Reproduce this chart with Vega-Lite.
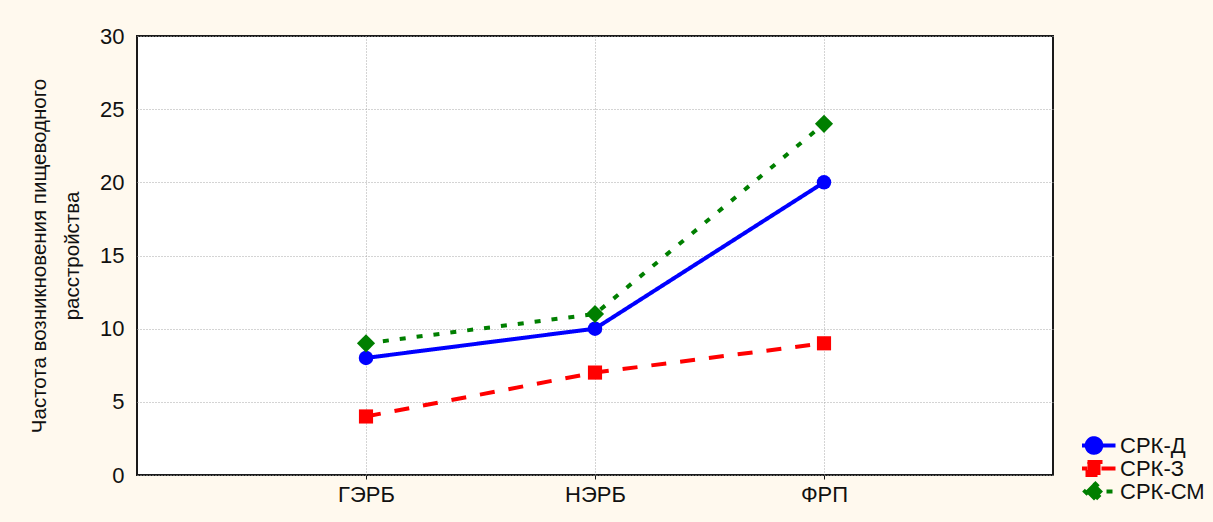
{
  "$schema": "https://vega.github.io/schema/vega-lite/v6.json",
  "width": 916,
  "height": 439,
  "autosize": {"type": "none"},
  "padding": {"left": 137, "top": 36, "right": 160, "bottom": 47},
  "background": "#FFF9EE",
  "config": {
    "view": {"fill": "#FFFFFF", "stroke": "#1a1a1a", "strokeWidth": 2},
    "font": "Liberation Sans",
    "axis": {
      "gridColor": "#a8a8a8",
      "gridDash": [1, 2],
      "gridWidth": 1,
      "domain": false,
      "labelColor": "#111111",
      "titleColor": "#111111",
      "labelFont": "Liberation Sans",
      "titleFont": "Liberation Sans",
      "titleFontWeight": "normal"
    }
  },
  "data": {
    "values": [
      {"group": "ГЭРБ", "series": "СРК-Д", "value": 8},
      {"group": "НЭРБ", "series": "СРК-Д", "value": 10},
      {"group": "ФРП", "series": "СРК-Д", "value": 20},
      {"group": "ГЭРБ", "series": "СРК-З", "value": 4},
      {"group": "НЭРБ", "series": "СРК-З", "value": 7},
      {"group": "ФРП", "series": "СРК-З", "value": 9},
      {"group": "ГЭРБ", "series": "СРК-СМ", "value": 9},
      {"group": "НЭРБ", "series": "СРК-СМ", "value": 11},
      {"group": "ФРП", "series": "СРК-СМ", "value": 24}
    ]
  },
  "encoding": {
    "x": {
      "field": "group",
      "type": "ordinal",
      "sort": ["ГЭРБ", "НЭРБ", "ФРП"],
      "scale": {"type": "point", "padding": 1},
      "axis": {
        "title": null,
        "labelAngle": 0,
        "labelFontSize": 22,
        "tickSize": 4,
        "tickColor": "#111111",
        "labelPadding": 5,
        "grid": true
      }
    },
    "y": {
      "field": "value",
      "type": "quantitative",
      "scale": {"domain": [0, 30], "nice": false},
      "axis": {
        "values": [0, 5, 10, 15, 20, 25, 30],
        "ticks": false,
        "labelPadding": 13,
        "labelFontSize": 22,
        "title": ["Частота возникновения пищеводного", "расстройства"],
        "titleFontSize": 20.5,
        "titleLineHeight": 33,
        "titleX": -88
      }
    },
    "color": {
      "field": "series",
      "type": "nominal",
      "scale": {"domain": ["СРК-Д", "СРК-З", "СРК-СМ"], "range": ["#0000FF", "#FF0000", "#007F00"]},
      "legend": {
        "title": null,
        "orient": "none",
        "legendX": 945,
        "legendY": 398,
        "rowPadding": 0,
        "clipHeight": 23,
        "symbolSize": 400,
        "labelFontSize": 22,
        "labelColor": "#111111",
        "labelFont": "Liberation Sans",
        "labelOffset": 14,
        "encode": {
          "symbols": {
            "update": {
              "shape": {"signal": "datum.value == 'СРК-Д' ? 'M-2.15,0L2.15,0M0.73,0A0.73,0.73,0,1,1,-0.73,0A0.73,0.73,0,1,1,0.73,0Z' : datum.value == 'СРК-З' ? 'M-2.15,0L2.15,0M-0.65,-0.65L0.65,-0.65L0.65,0.65L-0.65,0.65Z' : 'M-2.15,0L2.15,0M0,-0.9L0.9,0L0,0.9L-0.9,0Z'"},
              "size": {"value": 400},
              "strokeWidth": {"value": 4},
              "strokeDash": {"signal": "datum.value == 'СРК-З' ? [10,6] : datum.value == 'СРК-СМ' ? [5,7] : [1,0]"},
              "fill": {"signal": "datum.value == 'СРК-Д' ? '#0000FF' : datum.value == 'СРК-З' ? '#FF0000' : '#007F00'"},
              "stroke": {"signal": "datum.value == 'СРК-Д' ? '#0000FF' : datum.value == 'СРК-З' ? '#FF0000' : '#007F00'"},
              "opacity": {"value": 1},
              "fillOpacity": {"value": 1},
              "strokeOpacity": {"value": 1}
            }
          }
        }
      }
    }
  },
  "layer": [
    {
      "mark": {"type": "line", "strokeWidth": 4},
      "encoding": {
        "strokeDash": {
          "field": "series",
          "type": "nominal",
          "scale": {"domain": ["СРК-Д", "СРК-З", "СРК-СМ"], "range": [[1, 0], [15, 14], [6, 11]]},
          "legend": null
        }
      }
    },
    {
      "transform": [{"filter": {"field": "series", "equal": "СРК-Д"}}],
      "mark": {"type": "point", "filled": true, "opacity": 1, "shape": "circle", "size": 210}
    },
    {
      "transform": [{"filter": {"field": "series", "equal": "СРК-З"}}],
      "mark": {"type": "point", "filled": true, "opacity": 1, "shape": "square", "size": 200}
    },
    {
      "transform": [{"filter": {"field": "series", "equal": "СРК-СМ"}}],
      "mark": {"type": "point", "filled": true, "opacity": 1, "shape": "diamond", "size": 330}
    }
  ]
}
